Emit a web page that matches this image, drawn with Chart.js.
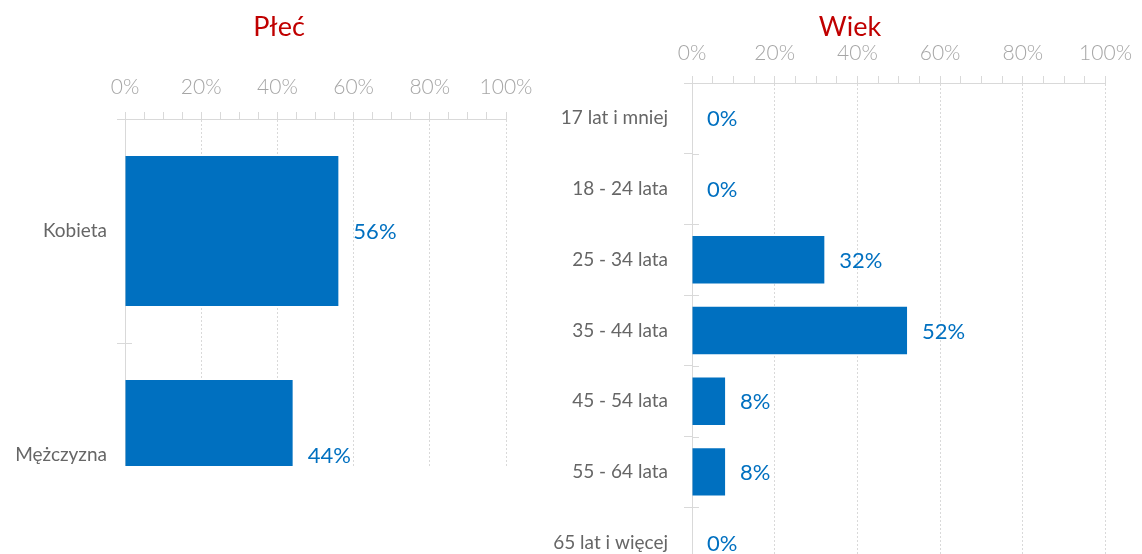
<!DOCTYPE html>
<html><head><meta charset="utf-8">
<script src="https://cdn.jsdelivr.net/npm/chart.js@4.4.1/dist/chart.umd.min.js"></script>
<style>
html,body{margin:0;padding:0;background:#fff;width:1142px;height:554px;overflow:hidden}
#wl{position:absolute;left:0;top:0;width:558px;height:466px;overflow:hidden}
#wr{position:absolute;left:520px;top:0;width:622px;height:554px;overflow:hidden}
canvas{display:block}
</style></head><body>
<div id="wl"><canvas id="cl" width="558" height="620"></canvas></div>
<div id="wr"><canvas id="cr" width="622" height="640"></canvas></div>
<script>
const genderTitle = 'Płeć';
const genderCategories = ['Kobieta', 'Mężczyzna'];
const genderValues = [56, 44];

const ageTitle = 'Wiek';
const ageCategories = ['17 lat i mniej', '18 - 24 lata', '25 - 34 lata', '35 - 44 lata', '45 - 54 lata', '55 - 64 lata', '65 lat i więcej'];
const ageValues = [0, 0, 32, 52, 8, 8, 0];

const axisTickLabels = [0, 20, 40, 60, 80, 100];

const FONT = 'Lato';
const BLUE = '#0070c0';
const GRID = '#d9d9d9';

const centerTitle = {
  id: 'centerTitle',
  afterDraw(chart, args, opts) {
    const ctx = chart.ctx;
    ctx.save();
    ctx.font = opts.font;
    ctx.fillStyle = opts.color;
    ctx.textAlign = 'center';
    ctx.textBaseline = 'middle';
    ctx.fillText(opts.text, opts.x, opts.y);
    ctx.restore();
  }
};

const valueLabels = {
  id: 'valueLabels',
  afterDatasetsDraw(chart, args, opts) {
    const ctx = chart.ctx;
    const meta = chart.getDatasetMeta(0);
    ctx.save();
    ctx.font = opts.font;
    ctx.fillStyle = opts.color;
    ctx.textAlign = 'left';
    ctx.textBaseline = 'middle';
    meta.data.forEach((bar, i) => {
      ctx.fillText(chart.data.datasets[0].data[i] + '%', bar.x + opts.gap, bar.y + 1);
    });
    ctx.restore();
  }
};

const crossTicks = {
  id: 'crossTicks',
  afterDraw(chart) {
    const y = chart.scales.y;
    const n = chart.data.labels.length;
    const half = (y.getPixelForValue(1) - y.getPixelForValue(0)) / 2;
    const left = chart.chartArea.left;
    const ctx = chart.ctx;
    ctx.save();
    ctx.strokeStyle = GRID;
    ctx.lineWidth = 1;
    ctx.beginPath();
    for (let i = 1; i < n; i++) {
      const py = Math.round(y.getPixelForValue(i) - half) + 0.5;
      ctx.moveTo(left, py);
      ctx.lineTo(left + 7, py);
    }
    ctx.stroke();
    ctx.restore();
  }
};

function makeChart(id, title, cats, vals, cfg) {
  return new Chart(document.getElementById(id), {
    type: 'bar',
    data: {
      labels: cats,
      datasets: [{ data: vals, backgroundColor: BLUE, borderWidth: 0, barPercentage: 0.67, categoryPercentage: 1 }]
    },
    options: {
      indexAxis: 'y',
      responsive: false,
      animation: false,
      layout: { padding: { left: 0, right: cfg.padRight, top: 0, bottom: cfg.padBottom } },
      plugins: {
        legend: { display: false },
        tooltip: { enabled: false },
        title: { display: false },
        centerTitle: { text: title, font: '27px ' + FONT, color: '#c00000', x: cfg.titleX, y: 27 },
        valueLabels: { font: '22px ' + FONT, color: BLUE, gap: 15 }
      },
      scales: {
        x: {
          position: 'top', min: 0, max: 100,
          ticks: {
            stepSize: 5, autoSkip: false, maxRotation: 0, padding: cfg.xPad,
            color: '#a6a6a6', font: { family: FONT, size: 21, weight: '300' },
            callback: v => axisTickLabels.includes(v) ? v + '%' : ''
          },
          grid: {
            color: c => (c.tick && c.tick.value > 0 && c.tick.value % 20 === 0) ? GRID : 'rgba(0,0,0,0)',
            tickColor: GRID, tickLength: 7, lineWidth: 1
          },
          border: { color: GRID, dash: [2, 2] },
          afterFit: s => { s.height = cfg.xHeight; }
        },
        y: {
          ticks: { padding: cfg.yPad, color: '#666666', font: { family: FONT, size: 19 } },
          grid: { offset: true, drawOnChartArea: false, color: GRID, tickLength: 8 },
          border: { color: GRID },
          afterFit: s => { s.width = cfg.yWidth; }
        }
      }
    },
    plugins: [valueLabels, crossTicks, centerTitle]
  });
}

makeChart('cl', genderTitle, genderCategories, genderValues,
  { padRight: 52, padBottom: 53, xHeight: 119, yWidth: 125, xPad: 12, yPad: 10, titleX: 279 });
makeChart('cr', ageTitle, ageCategories, ageValues,
  { padRight: 32, padBottom: 62, xHeight: 83, yWidth: 172, xPad: 10, yPad: 16, titleX: 330 });
</script>
</body></html>
